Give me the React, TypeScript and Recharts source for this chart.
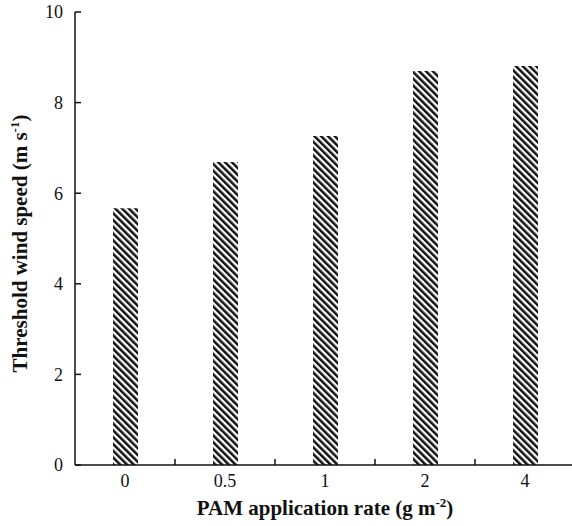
import { Bar, BarChart, XAxis, YAxis } from "recharts";

const rates = ["0", "0.5", "1", "2", "4"];
const thresholdSpeeds = [5.67, 6.69, 7.26, 8.7, 8.81];
const speedTicks = [0, 2, 4, 6, 8, 10];

const data = rates.map((rate, i) => ({ rate, speed: thresholdSpeeds[i] }));

const font = "'Liberation Serif', 'Times New Roman', serif";
const ink = "#111";

function YTick(props: any) {
  const { x, y, payload } = props;
  return (
    <g>
      <text
        x={x}
        y={y}
        dy="0.35em"
        textAnchor="end"
        fontFamily={font}
        fontSize={18}
        fill={ink}
      >
        {payload.value}
      </text>
      <line x1={x + 12} x2={x + 18} y1={y} y2={y} stroke={ink} strokeWidth={1.5} />
    </g>
  );
}

function XTick(props: any) {
  const { x, y, payload, index } = props;
  const half = payload.offset ?? 50;
  return (
    <g>
      <text
        x={x}
        y={y}
        dy="0.71em"
        textAnchor="middle"
        fontFamily={font}
        fontSize={18}
        fill={ink}
      >
        {payload.value}
      </text>
      {index < rates.length - 1 ? (
        <line
          x1={x + half}
          x2={x + half}
          y1={y - 9}
          y2={y - 15}
          stroke={ink}
          strokeWidth={1.5}
        />
      ) : null}
    </g>
  );
}

function YLabel(props: any) {
  const { viewBox } = props;
  const cy = viewBox.y + viewBox.height / 2 + 5;
  return (
    <text
      transform={`translate(27, ${cy}) rotate(-90)`}
      textAnchor="middle"
      fontFamily={font}
      fontSize={21}
      fontWeight="bold"
      fill={ink}
    >
      <tspan>Threshold wind speed (m s</tspan>
      <tspan dy={-8} fontSize={13}>
        -1
      </tspan>
      <tspan dy={8}>)</tspan>
    </text>
  );
}

function XLabel(props: any) {
  const { viewBox } = props;
  const cx = viewBox.x + viewBox.width / 2;
  return (
    <text
      x={cx}
      y={515}
      textAnchor="middle"
      fontFamily={font}
      fontSize={21}
      fontWeight="bold"
      fill={ink}
    >
      <tspan>PAM application rate (g m</tspan>
      <tspan dy={-8} fontSize={13}>
        -2
      </tspan>
      <tspan dy={8}>)</tspan>
    </text>
  );
}

export default function App() {
  return (
    <div
      style={{
        position: "absolute",
        left: 0,
        top: 0,
        width: 572,
        height: 526,
        overflow: "hidden",
        background: "#fff",
      }}
    >
      <BarChart
        width={575}
        height={526}
        data={data}
        margin={{ top: 12, right: 0, bottom: 0, left: 0 }}
      >
        <defs>
          <pattern
            id="hatch"
            patternUnits="userSpaceOnUse"
            width={4.8}
            height={4.8}
            patternTransform="rotate(-45)"
          >
            <rect x={0} y={0} width={4.8} height={4.8} fill="#fff" />
            <rect x={0} y={0} width={2.5} height={4.8} fill="#111" />
          </pattern>
        </defs>
        <XAxis
          dataKey="rate"
          height={61}
          tickLine={false}
          tickSize={0}
          tickMargin={9}
          tick={<XTick />}
          axisLine={{ stroke: ink, strokeWidth: 1.5 }}
          label={<XLabel />}
        />
        <YAxis
          width={75}
          domain={[0, 10]}
          ticks={speedTicks}
          tickLine={false}
          tickSize={0}
          tickMargin={12}
          tick={<YTick />}
          axisLine={{ stroke: ink, strokeWidth: 1.5 }}
          label={<YLabel />}
        />
        <Bar dataKey="speed" barSize={25} fill="url(#hatch)" isAnimationActive={false} />
      </BarChart>
    </div>
  );
}
